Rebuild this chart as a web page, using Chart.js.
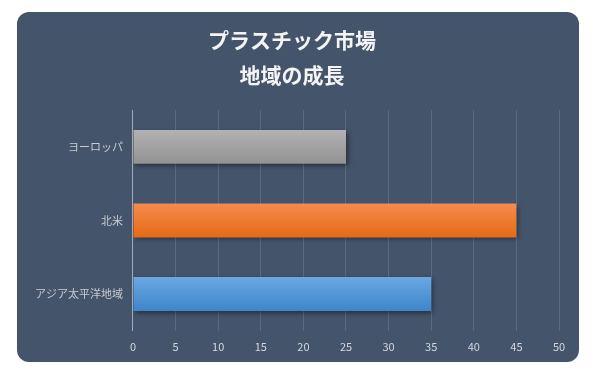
<!DOCTYPE html>
<html>
<head>
<meta charset="utf-8">
<script src="https://cdn.jsdelivr.net/npm/chart.js@4"></script>
<style>
    body { margin: 0; background: #ffffff; }
    #card {
        position: absolute;
        left: 17px;
        top: 12px;
        width: 562px;
        height: 350px;
        border-radius: 12px;
        background: #44546a;
        overflow: hidden;
    }
</style>
</head>
<body>
<div id="card"><canvas id="chart" width="562" height="350"></canvas></div>
<script>
const regions = ['ヨーロッパ', '北米', 'アジア太平洋地域'];
const growth = [25, 45, 35];
const xTicks = [0, 5, 10, 15, 20, 25, 30, 35, 40, 45, 50];

const barColors = [
    ['#b2b2b2', '#929292'],
    ['#f58b4c', '#e66a16'],
    ['#6aa8e2', '#3e85cb'],
];

const FONT = '"Noto Sans CJK JP", "Noto Sans", sans-serif';

function barGradient(context) {
    const chart = context.chart;
    const pair = barColors[context.dataIndex] || barColors[0];
    const y = chart.scales && chart.scales.y;
    if (!y || !chart.chartArea) return pair[0];
    const center = y.getPixelForValue(context.dataIndex);
    const half = (y.getPixelForValue(1) - y.getPixelForValue(0)) * 0.46 / 2;
    const g = chart.ctx.createLinearGradient(0, center - half, 0, center + half);
    g.addColorStop(0, pair[0]);
    g.addColorStop(1, pair[1]);
    return g;
}

const shadowPlugin = {
    id: 'barShadow',
    beforeDatasetsDraw(chart) {
        const ctx = chart.ctx;
        ctx.save();
        ctx.shadowColor = 'rgba(0, 0, 0, 0.45)';
        ctx.shadowBlur = 5;
        ctx.shadowOffsetX = 2;
        ctx.shadowOffsetY = 2;
    },
    afterDatasetsDraw(chart) {
        chart.ctx.restore();
    }
};

new Chart(document.getElementById('chart'), {
    type: 'bar',
    data: {
        labels: regions,
        datasets: [{
            data: growth,
            backgroundColor: barGradient,
            borderWidth: 0,
            categoryPercentage: 1,
            barPercentage: 0.46,
        }]
    },
    options: {
        indexAxis: 'y',
        responsive: false,
        animation: false,
        layout: { padding: { left: 8, right: 20, top: 4, bottom: 0 } },
        plugins: {
            legend: { display: false },
            tooltip: { enabled: false },
            title: {
                display: true,
                text: ['プラスチック市場', '地域の成長'],
                color: '#f4f4f4',
                font: { family: FONT, size: 21, weight: 'bold', lineHeight: 1.67 },
                padding: { top: 6, bottom: 18 }
            }
        },
        scales: {
            x: {
                min: 0,
                max: 50,
                afterBuildTicks(axis) {
                    axis.ticks = xTicks.map(v => ({ value: v }));
                },
                grid: { color: '#5c6a7f', drawTicks: false },
                border: { display: false },
                ticks: { color: '#d4d8de', font: { family: FONT, size: 11 }, padding: 9 }
            },
            y: {
                grid: { display: false, drawTicks: false },
                border: { display: true, color: '#a3abb7', width: 1 },
                ticks: { color: '#c9ccd1', font: { family: FONT, size: 11 }, padding: 10 }
            }
        }
    },
    plugins: [shadowPlugin]
});
</script>
</body>
</html>
